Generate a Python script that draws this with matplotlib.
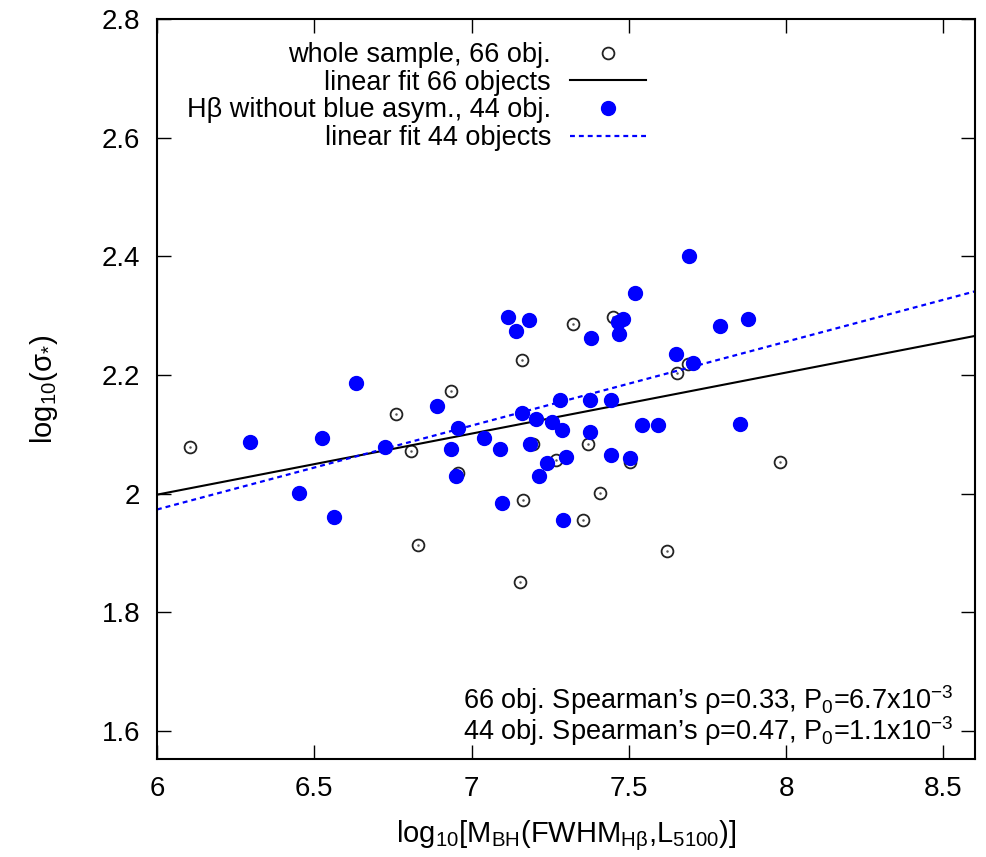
import numpy as np
import matplotlib
matplotlib.use("Agg")
import matplotlib.pyplot as plt
from matplotlib.ticker import FormatStrFormatter

plt.rcParams['font.family'] = ['Liberation Sans', 'DejaVu Sans']
plt.rcParams['mathtext.fontset'] = 'custom'
plt.rcParams['mathtext.rm'] = 'Liberation Sans'
plt.rcParams['mathtext.it'] = 'Liberation Sans:italic'
plt.rcParams['mathtext.default'] = 'regular'

# objects of the whole sample not in the 44 subset (open circles only)
x_rest = [6.106, 6.760, 6.808, 6.829, 6.934, 6.958, 7.153, 7.160, 7.165, 7.194,
          7.267, 7.321, 7.354, 7.371, 7.409, 7.449, 7.504, 7.622, 7.652, 7.688,
          7.981]
y_rest = [2.079, 2.134, 2.072, 1.914, 2.173, 2.035, 1.851, 2.225, 1.990, 2.083,
          2.057, 2.286, 1.955, 2.083, 2.001, 2.297, 2.054, 1.904, 2.204, 2.218,
          2.054]

# H-beta without blue asymmetry, 44 objects
x_44 = [6.296, 6.452, 6.526, 6.564, 6.633, 6.726, 6.891, 6.934, 6.952, 6.958,
        7.038, 7.091, 7.096, 7.117, 7.141, 7.160, 7.183, 7.186, 7.205, 7.213,
        7.239, 7.255, 7.280, 7.287, 7.292, 7.299, 7.375, 7.377, 7.379, 7.442,
        7.444, 7.464, 7.468, 7.481, 7.502, 7.520, 7.541, 7.594, 7.650, 7.692,
        7.703, 7.790, 7.852, 7.879]
y_44 = [2.087, 2.001, 2.094, 1.960, 2.187, 2.079, 2.147, 2.075, 2.030, 2.111,
        2.094, 2.075, 1.984, 2.298, 2.274, 2.136, 2.292, 2.084, 2.126, 2.030,
        2.051, 2.121, 2.158, 2.108, 1.955, 2.062, 2.158, 2.104, 2.262, 2.065,
        2.158, 2.289, 2.270, 2.295, 2.061, 2.338, 2.116, 2.116, 2.236, 2.400,
        2.220, 2.282, 2.117, 2.295]

# linear fits (intercept, slope)
fit_66 = (1.381, 0.1029)
fit_44 = (1.125, 0.1414)

x_all = np.concatenate([x_rest, x_44])
y_all = np.concatenate([y_rest, y_44])

fig = plt.figure(figsize=(9.86, 8.57), dpi=100)
ax = fig.add_axes([0.1592, 0.1144, 0.8296, 0.8634])

xf = np.array([6.0, 8.6])

ax.plot(x_all, y_all, 'o', ms=8.5, mfc='white', mec='#222222', mew=1.3,
        label='whole sample, 66 obj.')
ax.plot(x_all, y_all, 'o', ms=0.8, color='#555555')
ax.plot(xf, fit_66[0] + fit_66[1] * xf, '-', color='black', lw=1.5,
        label='linear fit 66 objects')
ax.plot(x_44, y_44, 'o', ms=10, color='#0000ff', mec='#0000ff',
        label='H\u03b2 without blue asym., 44 obj.')
ax.plot(xf, fit_44[0] + fit_44[1] * xf, color='#0000ff', lw=1.6,
        dashes=(2.2, 1.8), label='linear fit 44 objects')

ax.set_xlim(6, 8.6)
ax.set_ylim(1.553, 2.8)
ax.set_xticks([6, 6.5, 7, 7.5, 8, 8.5])
ax.set_yticks([1.6, 1.8, 2.0, 2.2, 2.4, 2.6, 2.8])
ax.xaxis.set_major_formatter(FormatStrFormatter('%g'))
ax.yaxis.set_major_formatter(FormatStrFormatter('%g'))
ax.tick_params(direction='in', length=10, width=1, top=True, right=True,
               labelsize=20, pad=12)
for s in ax.spines.values():
    s.set_linewidth(1.5)

ax.set_xlabel(r'log$_{10}$[M$_{BH}$(FWHM$_{H\beta}$,L$_{5100}$)]', fontsize=21,
              labelpad=12)
ax.set_ylabel(r'log$_{10}$($\sigma_{*}$)', fontsize=21, labelpad=30)

ax.legend(loc='upper right', bbox_to_anchor=(0.614, 0.987), frameon=False,
          markerfirst=False, fontsize=19.5, handlelength=2.8, handletextpad=0.7,
          labelspacing=0.06, borderpad=0, numpoints=1)

ax.text(0.974, 0.067, "66 obj. Spearman\u2019s $\\rho$=0.33, P$_0$=6.7x10$^{-3}$",
        transform=ax.transAxes, ha='right', va='baseline', fontsize=19.5)
ax.text(0.974, 0.025, "44 obj. Spearman\u2019s $\\rho$=0.47, P$_0$=1.1x10$^{-3}$",
        transform=ax.transAxes, ha='right', va='baseline', fontsize=19.5)

plt.savefig('out.png', dpi=100)
